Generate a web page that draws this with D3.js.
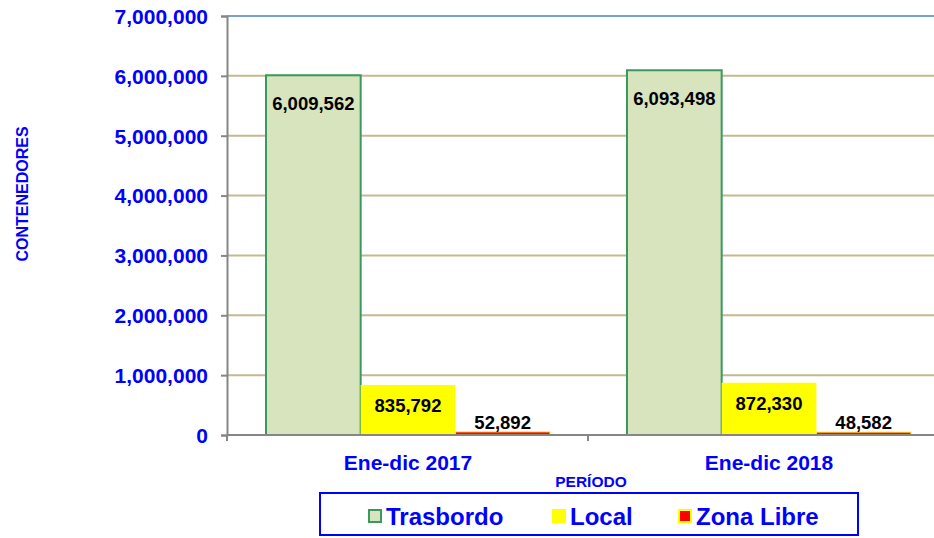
<!DOCTYPE html>
<html>
<head>
<meta charset="utf-8">
<script src="https://cdn.jsdelivr.net/npm/d3@7"></script>
<style>
  body { margin: 0; background: #fff; }
  svg { display: block; font-family: Arial, "Liberation Sans", sans-serif; }
  .tick-label { font-weight: bold; font-size: 21px; fill: #0000ff; }
  .val { font-weight: bold; font-size: 18.5px; fill: #000; }
</style>
</head>
<body>
<div class="graph_container"></div>
<script>
// data
const periods = ["Ene-dic 2017", "Ene-dic 2018"];
const seriesNames = ["Trasbordo", "Local", "Zona Libre"];
const trasbordo = [6009562, 6093498];
const local = [835792, 872330];
const zonaLibre = [52892, 48582];
const yTicks = [0, 1000000, 2000000, 3000000, 4000000, 5000000, 6000000, 7000000];

const W = 934, H = 538;
const plot_left = 227, plot_right = 949, plot_top = 16, plot_bottom = 435;

const svg = d3.select(".graph_container").append("svg")
  .attr("width", W).attr("height", H);

const y = d3.scaleLinear().domain([0, 7000000]).range([plot_bottom, plot_top]);
const x0 = d3.scaleBand().domain(periods).range([plot_left, plot_right]).paddingInner(0).paddingOuter(0);
const x1 = d3.scaleBand().domain(seriesNames).range([39, 39 + 284]);

const fmt = d3.format(",");

// gridlines
svg.append("g").selectAll("line").data(yTicks.filter(d => d > 0)).join("line")
  .attr("x1", plot_left).attr("x2", W)
  .attr("y1", d => y(d)).attr("y2", d => y(d))
  .attr("stroke", d => d === 7000000 ? "#4f81bd" : "#c4b98f")
  .attr("stroke-width", d => d === 7000000 ? 1.5 : 2);

// y axis
const yAxis = d3.axisLeft(y).tickValues(yTicks).tickSize(6).tickPadding(13).tickFormat(fmt);
const gy = svg.append("g").attr("transform", `translate(${plot_left},0)`).call(yAxis);
gy.select(".domain").attr("stroke", "#868686").attr("stroke-width", 2);
gy.selectAll(".tick line").attr("stroke", "#868686").attr("stroke-width", 2);
gy.selectAll(".tick text").attr("class", "tick-label").attr("dy", "0.35em");

const series = [
  { name: "Trasbordo", values: trasbordo, fill: "#d7e4bd", stroke: "#3a9a5e" },
  { name: "Local", values: local, fill: "#ffff00", stroke: "none" },
  { name: "Zona Libre", values: zonaLibre, fill: "#ff0000", stroke: "#ffff00" }
];

periods.forEach((p, i) => {
  const g = svg.append("g").attr("transform", `translate(${x0(p)},0)`);
  series.forEach(s => {
    const v = s.values[i];
    const bx = x1(s.name), bw = x1.bandwidth();
    g.append("rect")
      .attr("x", bx).attr("width", bw)
      .attr("y", y(v)).attr("height", plot_bottom - y(v))
      .attr("fill", s.fill)
      .attr("stroke", s.stroke)
      .attr("stroke-width", s.name === "Zona Libre" ? 1 : 2);
    let ty;
    if (s.name === "Trasbordo") ty = y(v) + 35;
    else if (s.name === "Local") ty = y(v) + 27;
    else ty = y(v) - 3;
    g.append("text").attr("class", "val")
      .attr("x", bx + bw / 2).attr("y", ty)
      .attr("text-anchor", "middle")
      .text(fmt(v));
  });
});

// x axis
const gx = svg.append("g").attr("transform", `translate(0,${plot_bottom})`);
gx.append("line").attr("x1", plot_left).attr("x2", W).attr("y1", 0).attr("y2", 0)
  .attr("stroke", "#868686").attr("stroke-width", 2);
[plot_left, x0(periods[1])].forEach(t => {
  gx.append("line").attr("x1", t).attr("x2", t).attr("y1", 0).attr("y2", 6)
    .attr("stroke", "#868686").attr("stroke-width", 2);
});
periods.forEach(p => {
  gx.append("text").attr("class", "tick-label")
    .attr("x", x0(p) + 39 + 142).attr("y", 34.5)
    .attr("text-anchor", "middle").text(p);
});

// axis titles
svg.append("text").attr("x", 591).attr("y", 486.5).attr("text-anchor", "middle")
  .attr("font-size", 15.5).attr("font-weight", "bold").attr("fill", "#0000ff").text("PERÍODO");
svg.append("text").attr("transform", "translate(28,194) rotate(-90)").attr("text-anchor", "middle")
  .attr("font-size", 16).attr("font-weight", "bold").attr("fill", "#0000ff").text("CONTENEDORES");

// legend
const lg = svg.append("g");
lg.append("rect").attr("x", 320).attr("y", 493).attr("width", 538).attr("height", 42)
  .attr("fill", "#fff").attr("stroke", "#0000ff").attr("stroke-width", 2);
const legendX = [368, 552, 678];
series.forEach((s, i) => {
  lg.append("rect").attr("x", legendX[i] + 1).attr("y", 510).attr("width", 12).attr("height", 12)
    .attr("fill", s.fill)
    .attr("stroke", s.name === "Local" ? "#ffff00" : s.stroke)
    .attr("stroke-width", 2);
  lg.append("text").attr("x", legendX[i] + 18).attr("y", 524.5)
    .attr("font-size", 24).attr("font-weight", "bold").attr("fill", "#0000ff").text(s.name);
});

// source note, cut off at bottom edge as in the original
svg.append("text").attr("x", 3).attr("y", 546).attr("font-size", 11).attr("fill", "#0000ff").text("Fuente: ");
</script>
</body>
</html>
